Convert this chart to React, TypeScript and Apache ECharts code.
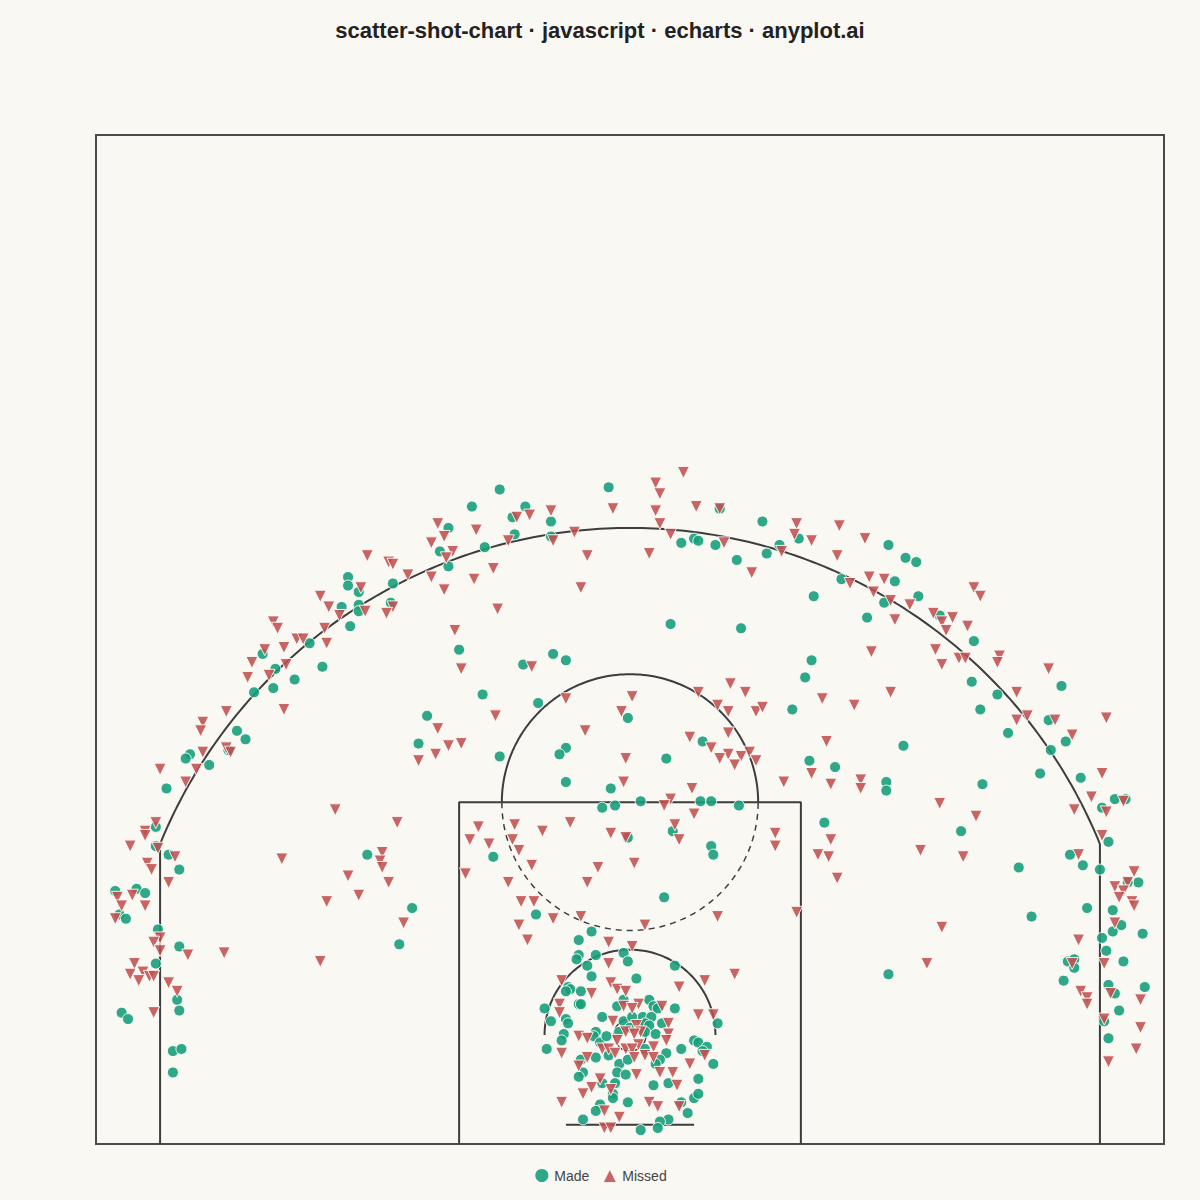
import { useEffect, useRef } from "react";
import * as echarts from "echarts";

// Shot locations in feet, hoop near (0, 0), baseline at y = -5.25
const made: [number, number][] = [
  [-13.2,21.3],[-13.2,20.9],[-12.7,20.6],[-13.5,19.9],[-12.7,20.0],[-12.7,19.7],[-13.1,19.0],[-15.0,18.2],[-17.2,17.7],[-16.6,17.0],[-14.4,17.1],[-15.7,16.5],[-16.7,16.1],
  [-17.6,15.9],[-18.4,14.1],[-18.0,13.7],[-20.6,13.0],[-20.8,12.8],[-19.7,12.5],[-18.8,13.2],[-21.7,11.4],[-22.2,9.6],[-22.2,8.7],[-21.6,8.3],[-21.1,7.6],[-24.1,6.6],[-23.1,6.7],[-22.7,6.5],[-23.9,5.5],[-23.6,5.3],
  [-22.1,4.8],[-21.1,4.0],[-22.2,3.2],[-21.2,1.5],[-21.1,1.0],[-23.8,0.9],[-23.5,0.6],[-21.4,-0.9],[-21.0,-0.8],[-21.4,-1.9],
  [-6.1,25.4],[-1.0,25.5],[-7.4,24.6],[-4.9,24.6],[-5.5,24.1],[-3.7,23.9],[-8.5,23.6],[-5.4,23.3],[-3.7,23.2],[-6.8,22.7],[-8.9,22.5],[-8.5,21.8],[-11.1,21.0],[-11.2,20.1],[-8.0,17.9],[-3.6,17.7],[-3.0,17.4],[-5.0,17.2],
  [4.2,24.5],[6.2,23.9],[2.4,22.9],[3.0,23.1],[3.2,23.0],[4.0,22.8],[5.0,22.1],[6.4,22.4],[7.0,22.8],[7.9,23.1],[12.1,22.8],[12.4,21.1],[9.9,21.2],[8.6,20.4],[11.9,20.1],[11.1,19.4],[1.9,19.1],[5.2,18.9],[8.5,17.4],[8.2,16.6],
  [12.9,22.2],[13.4,22.0],[13.5,20.4],[14.5,19.5],[16.1,18.3],[16.0,16.4],[20.2,16.2],
  [-6.9,15.8],[-4.3,15.4],[-9.5,14.8],[-9.9,13.5],[-6.1,12.9],[-3.0,13.3],[-3.3,13.0],[-3.0,11.7],[-0.1,14.7],[-0.9,11.4],[-0.7,10.6],[-1.3,10.5],[-12.3,8.3],[-6.4,8.2],[-10.2,5.8],[-4.4,5.5],
  [3.4,13.6],[1.7,12.8],[7.6,15.1],[8.4,12.7],[9.6,12.4],[12.0,11.7],[12.0,11.3],[0.5,10.8],[3.3,10.8],[3.8,10.8],[5.1,10.6],[9.1,9.8],[2.0,9.4],[3.8,8.7],[3.9,8.3],[1.6,6.3],[-0.1,9.1],
  [17.2,15.8],[16.4,15.1],[19.6,14.6],[17.7,14.0],[20.4,13.6],[19.7,13.2],[12.8,13.4],[19.2,12.1],[21.1,11.9],[16.5,11.6],[22.7,10.9],[23.2,10.9],[22.1,10.5],[15.5,9.4],[22.4,8.9],[20.6,8.3],[21.2,7.8],[22.0,7.6],[18.2,7.7],[23.8,7.0],[23.3,7.0],[21.4,5.8],[22.6,5.7],[18.8,5.4],
  [-10.8,4.1],[-1.8,4.7],[-2.4,4.3],[-1.6,3.6],[-2.4,3.6],[-2.5,3.4],[-0.3,3.7],[-0.1,3.3],[-2.0,3.1],[-1.8,2.6],[-2.9,2.1],[-2.8,2.0],[-3.0,1.9],[-2.3,1.9],[-0.3,1.5],[-2.4,1.3],[-2.3,1.3],[-4.0,1.1],[-3.7,0.5],[-3.0,0.6],[-2.9,0.4],[-0.6,1.2],[-1.3,0.7],[-0.3,0.5],[-0.5,0.0],[-1.6,0.0],[-1.7,-0.2],[-3.1,-0.1],[-3.2,-0.4],[-3.9,-0.8],[-1.4,-0.5],[-1.1,-0.2],[-1.0,-1.1],[-1.6,-1.2],[-2.3,-1.3],[-2.2,-1.9],[-2.4,-2.1],[-0.5,-1.5],[-0.1,-1.3],[-0.6,-1.9],[-0.2,-2.0],[-1.3,-2.4],[-0.7,-2.4],[-0.8,-2.9],[-0.8,-3.1],[-0.1,-3.3],[-1.4,-3.4],[-1.6,-3.7],[-2.2,-4.1],
  [2.1,3.1],[0.3,2.5],[0.9,1.5],[1.1,1.2],[1.3,1.1],[2.1,1.1],[4.1,0.4],[0.1,0.7],[0.6,0.7],[1.0,0.7],[0.7,0.4],[1.5,0.4],[0.9,0.3],[0.7,0.0],[1.2,-0.1],[0.0,0.2],[3.0,-0.4],[3.2,-0.5],[3.6,-0.7],[3.4,-0.9],[2.4,-0.8],[1.7,-1.0],[0.7,-0.8],[1.4,-1.3],[1.2,-1.5],[3.9,-1.5],[1.1,-2.5],[1.8,-2.4],[3.2,-2.2],[3.0,-3.1],[3.2,-2.9],[2.4,-3.3],[2.7,-3.8],[1.8,-4.1],[1.4,-4.2],[1.3,-4.5],[0.5,-4.6],[12.1,2.7],
  [22.6,4.7],[23.0,5.0],[24.0,4.6],[22.1,4.4],[22.3,3.8],[23.1,3.3],[20.5,3.3],[20.8,3.4],[20.8,3.0],[20.3,2.4],[22.4,2.2],[22.7,1.8],[24.1,2.1],[22.9,1.0],[22.2,0.5],[22.4,-0.3],
];

const missed: [number, number][] = [
  [-14.5,20.4],[-12.6,20.8],[-14.1,19.9],[-13.6,19.5],[-14.3,18.9],[-16.7,19.2],[-16.5,18.9],[-15.6,18.4],[-15.3,18.4],[-14.2,18.2],[-16.2,18.0],[-17.1,17.9],[-17.7,17.3],[-16.1,17.2],[-16.9,16.7],[-17.9,16.6],[-12.4,19.7],
  [-0.8,24.5],[-3.7,24.4],[-5.3,24.1],[-4.7,24.2],[-9.0,23.8],[-7.2,23.5],[-8.7,23.2],[-5.7,23.0],[-3.6,23.0],[-2.6,23.4],[-9.3,22.9],[-8.3,22.5],[-8.6,22.2],[-12.3,22.3],[-11.3,22.0],[-11.1,21.9],[-2.0,22.3],[-10.4,21.4],[-9.3,21.3],[-6.4,21.7],[-7.3,21.2],[-8.7,20.7],[-2.3,20.8],[-11.1,19.9],[-11.4,19.6],[-6.2,19.8],[-8.2,18.8],[-7.9,17.0],[-4.6,17.1],
  [2.5,26.2],[1.2,25.7],[1.4,25.2],[1.2,24.4],[3.1,24.6],[4.2,24.5],[1.4,23.8],[1.9,23.3],[0.9,22.4],[4.4,22.9],[5.7,21.5],[7.8,23.8],[7.7,23.3],[8.5,23.0],[9.8,23.7],[11.0,23.1],[9.7,22.3],[7.1,22.5],[10.3,21.0],[11.2,21.3],[11.9,21.2],[11.4,20.6],[12.2,20.2],[12.4,19.3],[11.3,17.8],[4.7,16.3],[5.4,15.9],[12.2,15.9],
  [16.1,20.8],[16.4,20.4],[13.1,20.0],[14.2,19.6],[14.6,19.2],[15.1,19.4],[14.8,18.8],[15.8,19.0],[14.3,17.9],[14.6,17.2],[15.4,17.5],[15.7,17.5],[17.3,17.6],[17.2,17.3],[19.6,17.0],[18.1,15.9],
  [-18.9,15.0],[-16.2,15.1],[-20.0,14.5],[-20.1,14.1],[-18.9,13.3],[-18.7,13.1],[-20.0,13.1],[-20.3,12.3],[-22.0,12.3],[-20.8,11.7],[-13.8,10.4],[-22.2,9.8],[-22.7,9.4],[-22.7,9.2],[-23.4,8.7],[-22.1,8.6],[-21.3,8.2],[-16.3,8.1],[-22.6,7.9],[-22.4,7.6],[-13.2,7.3],[-21.6,7.0],[-12.7,6.4],[-14.2,6.1],[-24.0,6.3],[-23.3,6.4],[-23.8,5.9],[-22.7,5.9],[-24.1,5.3],
  [-6.3,14.8],[-9.0,14.2],[-8.5,13.4],[-7.9,13.5],[-9.1,13.0],[-9.9,12.7],[-3.0,15.6],[-0.4,15.0],[-2.1,14.1],[-0.2,12.8],[-0.3,11.7],[-10.9,9.8],[-7.1,9.6],[-5.4,9.7],[-4.1,9.4],[-2.8,9.8],[-0.9,9.3],[-0.2,9.1],[-7.5,9.0],[-6.6,8.8],[-5.5,9.0],[-5.2,8.5],[-11.6,8.4],[-11.7,8.0],[-11.6,7.7],[-11.3,7.0],[-7.7,7.4],[-4.6,7.8],[-1.5,7.7],[-5.7,7.0],[-2.0,7.0],[-5.1,6.1],[-4.5,6.1],[-3.6,5.3],[-2.3,5.4],
  [0.1,15.7],[3.2,15.9],[4.1,15.3],[4.6,15.0],[5.9,15.0],[6.2,15.2],[9.0,15.6],[10.5,15.3],[2.8,13.8],[4.6,14.0],[3.8,13.3],[4.6,13.0],[5.2,12.9],[5.6,13.1],[5.9,12.7],[4.2,12.8],[4.9,12.5],[9.2,13.6],[8.5,12.1],[7.2,11.7],[9.4,11.6],[10.8,11.8],[10.8,11.4],[2.9,11.4],[1.9,10.9],[1.6,10.6],[3.0,10.2],[2.1,9.7],[2.3,9.0],[0.2,7.9],[6.8,9.3],[6.8,8.7],[9.4,9.0],[8.8,8.3],[9.3,8.2],[9.7,7.2],[4.1,5.4],[7.8,5.6],
  [18.1,14.6],[18.6,14.8],[19.9,14.6],[22.3,14.7],[20.7,13.9],[22.1,12.1],[21.6,11.0],[20.8,10.4],[22.3,10.3],[23.1,10.8],[14.5,10.7],[16.2,10.1],[22.1,9.2],[13.6,8.5],[15.6,8.2],[21.0,8.3],[23.6,7.5],[22.7,6.8],[23.3,7.0],[23.1,6.6],[22.9,6.3],[23.5,6.1],[23.6,5.9],
  [-22.0,4.4],[-22.3,4.2],[-22.0,3.8],[-20.7,3.6],[-19.0,3.7],[-14.5,3.3],[-23.2,3.2],[-22.8,2.8],[-23.4,2.7],[-23.0,2.4],[-22.5,2.6],[-22.3,2.6],[-21.6,2.3],[-21.2,1.9],[-22.3,0.9],
  [-10.6,5.1],[-5.2,5.0],[-4.8,4.3],[-1.0,4.2],[-1.0,3.2],[-3.2,2.4],[-1.8,1.8],[-0.9,2.3],[-0.6,2.0],[-0.2,1.9],[-3.3,1.3],[-3.3,0.9],[-0.3,1.2],[-0.8,0.5],[-0.2,0.0],[-2.4,-0.2],[-2.0,-0.3],[-3.2,-1.0],[-1.3,-0.8],[-1.0,-0.8],[-0.6,-0.4],[-0.2,-0.8],[-0.7,-1.0],[-2.0,-1.2],[-2.4,-1.6],[-1.4,-2.2],[-0.9,-2.7],[-1.8,-2.6],[-2.2,-2.9],[-3.2,-3.3],[-1.2,-3.7],[-0.5,-4.0],[-1.2,-4.5],[-0.9,-4.5],
  [0.7,5.0],[0.1,4.0],[2.3,2.1],[3.5,2.4],[4.9,2.7],[1.5,1.2],[0.4,1.3],[0.1,1.1],[3.2,0.8],[3.9,0.8],[1.8,0.4],[0.3,0.3],[0.5,0.0],[1.8,-0.1],[0.2,-0.1],[1.7,-0.4],[3.5,-1.1],[0.4,-0.6],[0.1,-0.8],[1.1,-0.7],[0.7,-1.1],[1.1,-1.2],[0.2,-1.2],[2.8,-1.5],[1.4,-1.9],[2.0,-1.9],[0.3,-2.0],[2.2,-2.5],[0.9,-3.3],[1.3,-3.5],[2.3,-3.5],
  [14.6,4.9],[13.9,3.2],[21.0,4.3],[22.7,5.1],[20.7,3.2],[22.2,3.2],[22.5,1.8],[21.1,1.9],[21.4,1.6],[21.4,1.3],[23.9,1.5],[22.2,0.6],[23.9,0.2],[23.7,-0.8],[22.4,-1.4],
];

// Court geometry (feet)
const HALF_WIDTH = 25;
const BASELINE = -5.25;
const HALF_COURT = 42;
const HOOP_Y = -0.15;
const THREE_RADIUS = 23.75;
const CORNER_X = 22;
const PAINT_HALF = 8;
const FT_LINE = 10.75;
const FT_RADIUS = 6;
const RESTRICTED_RADIUS = 4;
const BACKBOARD_Y = -4.35;
const BACKBOARD_HALF = 3;
const HOOP_RADIUS = 0.75;

function arc(cx: number, cy: number, r: number, a0: number, a1: number, n = 120) {
  const pts: number[][] = [];
  for (let i = 0; i <= n; i++) {
    const a = ((a0 + ((a1 - a0) * i) / n) * Math.PI) / 180;
    pts.push([cx + r * Math.cos(a), cy + r * Math.sin(a)]);
  }
  return pts;
}

const LINE_COLOR = "#3d3d3d";
const FONT = "'Liberation Sans', Arial, Helvetica, sans-serif";

function courtLine(data: number[][], dashed = false, width = 2) {
  return {
    type: "line",
    data,
    showSymbol: false,
    symbol: "none",
    silent: true,
    z: 1,
    lineStyle: { color: LINE_COLOR, width, type: dashed ? [6, 5] : "solid" },
    tooltip: { show: false },
  };
}

export default function App() {
  const ref = useRef<HTMLDivElement>(null);

  useEffect(() => {
    if (!ref.current) return;
    const chart = echarts.init(ref.current, undefined, { renderer: "svg" });
    const cornerY = HOOP_Y + Math.sqrt(THREE_RADIUS ** 2 - CORNER_X ** 2);
    const cornerAngle = (Math.acos(CORNER_X / THREE_RADIUS) * 180) / Math.PI;

    chart.setOption({
      animation: false,
      backgroundColor: "#FAF8F2",
      title: {
        text: "scatter-shot-chart · javascript · echarts · anyplot.ai",
        left: "center",
        top: 14,
        textStyle: { fontSize: 22, fontWeight: "bold", color: "#222222", fontFamily: FONT },
      },
      legend: {
        data: ["Made", "Missed"],
        bottom: 11,
        left: "center",
        itemWidth: 15,
        itemHeight: 15,
        itemGap: 12,
        symbolRotate: 0,
        textStyle: { fontSize: 14, color: "#444444", fontFamily: FONT },
      },
      grid: {
        left: 96,
        right: 36,
        top: 135,
        bottom: 56,
        show: true,
        borderColor: "#4a4a4a",
        borderWidth: 2,
        backgroundColor: "transparent",
      },
      xAxis: {
        type: "value",
        min: -HALF_WIDTH,
        max: HALF_WIDTH,
        axisLine: { show: false },
        axisTick: { show: false },
        axisLabel: { show: false },
        splitLine: { show: false },
      },
      yAxis: {
        type: "value",
        min: BASELINE,
        max: HALF_COURT,
        axisLine: { show: false },
        axisTick: { show: false },
        axisLabel: { show: false },
        splitLine: { show: false },
      },
      series: [
        courtLine([[-CORNER_X, BASELINE], [-CORNER_X, cornerY]]),
        courtLine([[CORNER_X, BASELINE], [CORNER_X, cornerY]]),
        courtLine(arc(0, HOOP_Y, THREE_RADIUS, cornerAngle, 180 - cornerAngle, 200)),
        courtLine([
          [-PAINT_HALF, BASELINE],
          [-PAINT_HALF, FT_LINE],
          [PAINT_HALF, FT_LINE],
          [PAINT_HALF, BASELINE],
        ]),
        courtLine(arc(0, FT_LINE, FT_RADIUS, 0, 180)),
        courtLine(arc(0, FT_LINE, FT_RADIUS, 180, 360), true, 1.5),
        courtLine(arc(0, HOOP_Y, RESTRICTED_RADIUS, 0, 180)),
        courtLine([[-BACKBOARD_HALF, BACKBOARD_Y], [BACKBOARD_HALF, BACKBOARD_Y]]),
        courtLine(arc(0, HOOP_Y, HOOP_RADIUS, 0, 360, 60), false, 1.5),
        {
          name: "Made",
          type: "scatter",
          data: made,
          symbol: "circle",
          symbolSize: 11,
          z: 3,
          itemStyle: { color: "#1a9f7b", opacity: 0.9, borderColor: "#ffffff", borderWidth: 1 },
        },
        {
          name: "Missed",
          type: "scatter",
          data: missed,
          symbol: "triangle",
          symbolRotate: 180,
          symbolSize: 12,
          z: 4,
          itemStyle: { color: "#c0504f", opacity: 0.88, borderColor: "#ffffff", borderWidth: 1 },
        },
      ],
    });
    return () => chart.dispose();
  }, []);

  return (
    <div
      ref={ref}
      style={{ position: "fixed", left: 0, top: 0, width: 1200, height: 1200 }}
    />
  );
}
